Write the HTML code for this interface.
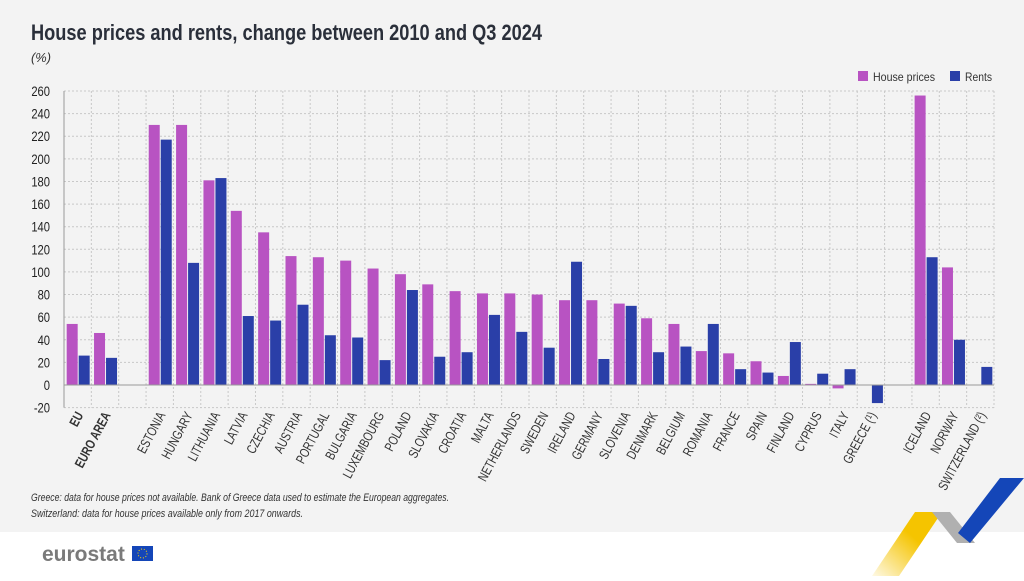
<!DOCTYPE html>
<html><head><meta charset="utf-8"><style>
body{margin:0;width:1024px;height:576px;overflow:hidden;background:#fff;font-family:"Liberation Sans",sans-serif;}
</style></head><body>
<svg width="1024" height="576" xmlns="http://www.w3.org/2000/svg" font-family="Liberation Sans, sans-serif">
<defs><linearGradient id="yg" x1="0" y1="1" x2="1" y2="0"><stop offset="0" stop-color="#f5c400" stop-opacity="0.1"/><stop offset="0.6" stop-color="#f5c400"/></linearGradient></defs>
<rect x="0" y="0" width="1024" height="532" fill="#f3f3f3"/>
<text x="31" y="40" font-size="22" font-weight="bold" fill="#2a2f3a" textLength="511" lengthAdjust="spacingAndGlyphs">House prices and rents, change between 2010 and Q3 2024</text>
<text x="31" y="62" font-size="13" font-style="italic" fill="#333" textLength="20" lengthAdjust="spacingAndGlyphs">(%)</text>
<rect x="858" y="71" width="10" height="10" fill="#b853c2"/>
<text x="873" y="81" font-size="12" fill="#333" textLength="62" lengthAdjust="spacingAndGlyphs">House prices</text>
<rect x="950" y="71" width="10" height="10" fill="#2a3fa8"/>
<text x="965" y="81" font-size="12" fill="#333" textLength="27" lengthAdjust="spacingAndGlyphs">Rents</text>
<g id="chart"></g>
<text x="31" y="501" font-size="11" font-style="italic" fill="#333" textLength="418" lengthAdjust="spacingAndGlyphs">Greece: data for house prices not available. Bank of Greece data used to estimate the European aggregates.</text>
<text x="31" y="517" font-size="11" font-style="italic" fill="#333" textLength="272" lengthAdjust="spacingAndGlyphs">Switzerland: data for house prices available only from 2017 onwards.</text>
<text x="42" y="561" font-size="21" font-weight="bold" fill="#7a7a7a">eurostat</text>
<rect x="132" y="546" width="21" height="15" fill="#1446b8"/>
<circle cx="142.5" cy="553.5" r="4.5" fill="none" stroke="#ffd500" stroke-width="1" stroke-dasharray="1 1.8"/>
<polygon points="872,576 915,512 942,512 899,576" fill="url(#yg)"/>
<polygon points="932,512 950,512 975,543 957,543" fill="#b0b0b0"/>
<polygon points="958,533 1000,478 1024,478 970,543" fill="#1446b8"/>
</svg>
<script>
const data=[["EU",54,26,1],["EURO AREA",46,24,1],null,["ESTONIA",230,217],["HUNGARY",230,108],["LITHUANIA",181,183],["LATVIA",154,61],["CZECHIA",135,57],["AUSTRIA",114,71],["PORTUGAL",113,44],["BULGARIA",110,42],["LUXEMBOURG",103,22],["POLAND",98,84],["SLOVAKIA",89,25],["CROATIA",83,29],["MALTA",81,62],["NETHERLANDS",81,47],["SWEDEN",80,33],["IRELAND",75,109],["GERMANY",75,23],["SLOVENIA",72,70],["DENMARK",59,29],["BELGIUM",54,34],["ROMANIA",30,54],["FRANCE",28,14],["SPAIN",21,11],["FINLAND",8,38],["CYPRUS",1,10],["ITALY",-3,14],["GREECE (¹)",null,-16],null,["ICELAND",256,113],["NORWAY",104,40],["SWITZERLAND (²)",null,16]];
const x0=64,x1=994,n=34,w=(x1-x0)/n,y0=385,k=294/260;
const Y=v=>y0-v*k;
let s='';
for(let v=-20;v<=260;v+=20){s+=`<text transform="translate(50,${Y(v)+5}) scale(0.8,1)" font-size="14" text-anchor="end" fill="#222">${v}</text>`;if(v!=0)s+=`<line x1="${x0}" x2="${x1}" y1="${Y(v)}" y2="${Y(v)}" stroke="#c8c8c8" stroke-dasharray="2 2"/>`;}
for(let i=1;i<=n;i++){s+=`<line x1="${x0+i*w}" x2="${x0+i*w}" y1="${Y(260)}" y2="${Y(-20)}" stroke="#c8c8c8" stroke-dasharray="2 2"/>`;}
data.forEach((d,i)=>{if(!d)return;const c=x0+w*(i+0.5);
if(d[1]!=null){const y=Y(Math.max(d[1],0)),h=Math.abs(d[1])*k;s+=`<rect x="${c-11}" y="${y}" width="11" height="${Math.max(h,1)}" fill="#b853c2"/>`;}
if(d[2]!=null){const y=Y(Math.max(d[2],0)),h=Math.abs(d[2])*k;s+=`<rect x="${c+1}" y="${y}" width="11" height="${h}" fill="#2a3fa8"/>`;}
s+=`<text transform="translate(${c+6},415) rotate(-62) scale(0.76,1)" font-size="13.5" text-anchor="end" fill="#333" ${d[3]?'font-weight="bold"':''}>${d[0]}</text>`;});
s+=`<line x1="${x0}" x2="${x1}" y1="${y0}" y2="${y0}" stroke="#999"/>`;
s+=`<line x1="${x0}" x2="${x0}" y1="${Y(260)}" y2="${Y(-20)}" stroke="#999"/>`;
document.getElementById('chart').innerHTML=s;
</script>
</body></html>
